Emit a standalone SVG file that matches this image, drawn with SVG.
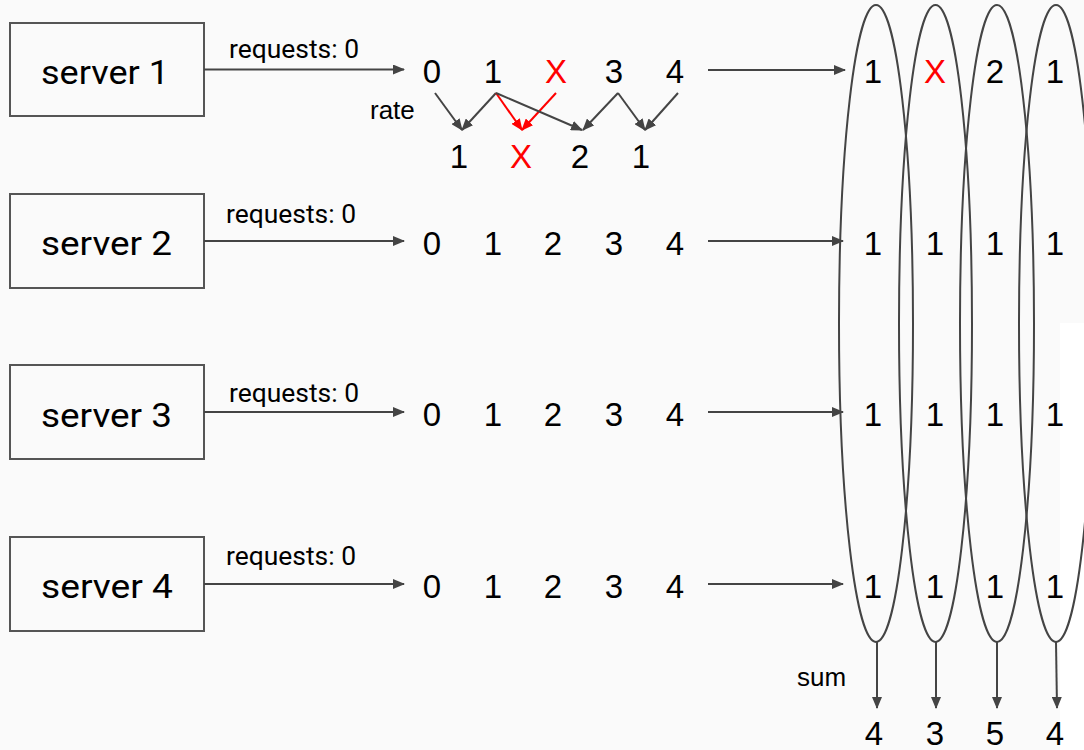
<svg xmlns="http://www.w3.org/2000/svg" width="1084" height="750" viewBox="0 0 1084 750">
<defs>
<marker id="ah" markerWidth="12" markerHeight="10" refX="11" refY="5" orient="auto" markerUnits="userSpaceOnUse"><path d="M0,0 L12,5 L0,10 z" fill="#444"/></marker>
<marker id="ahr" markerWidth="12" markerHeight="10" refX="11" refY="5" orient="auto" markerUnits="userSpaceOnUse"><path d="M0,0 L12,5 L0,10 z" fill="#ff0000"/></marker>
<style>
.box{fill:none;stroke:#555;stroke-width:2}
.ln{stroke:#444;stroke-width:2;fill:none}
.lr{stroke:#ff0000;stroke-width:2;fill:none}
.el{stroke:#444;stroke-width:2;fill:none}
.srv{font-family:Roboto,"Liberation Sans",sans-serif;font-size:34px;fill:#000}
.req{font-family:Roboto,"Liberation Sans",sans-serif;font-size:25px;fill:#000}
.lbl{font-family:"Liberation Sans",Arial,sans-serif;font-size:26px;fill:#000}
.d{font-family:"Liberation Sans",Arial,sans-serif;font-size:33px;fill:#000;text-anchor:middle}
.red{fill:#ff0000}
</style>
</defs>
<rect width="1084" height="750" fill="#fafafa"/>
<rect x="1060" y="323" width="24" height="427" fill="#ffffff"/>

<g id="server1"><rect class="box" x="10" y="23" width="194" height="93"/><text class="srv" x="41" y="84" textLength="128" lengthAdjust="spacingAndGlyphs">server 1</text></g>
<g id="server2"><rect class="box" x="10" y="194" width="194" height="94"/><text class="srv" x="41" y="255" textLength="131" lengthAdjust="spacingAndGlyphs">server 2</text></g>
<g id="server3"><rect class="box" x="10" y="365" width="194" height="94"/><text class="srv" x="41" y="427" textLength="131" lengthAdjust="spacingAndGlyphs">server 3</text></g>
<g id="server4"><rect class="box" x="10" y="537" width="194" height="94"/><text class="srv" x="41" y="598" textLength="132" lengthAdjust="spacingAndGlyphs">server 4</text></g>

<g id="row1">
<text class="d" x="432" y="83">0</text><text class="d" x="493" y="83">1</text><text class="d red" x="556" y="83">X</text><text class="d" x="614" y="83">3</text><text class="d" x="675" y="83">4</text>
</g>
<g id="rate-row">
<text class="d" x="459" y="168">1</text><text class="d red" x="521" y="168">X</text><text class="d" x="580" y="168">2</text><text class="d" x="641" y="168">1</text>
</g>
<g id="row2">
<text class="d" x="432" y="255">0</text><text class="d" x="493" y="255">1</text><text class="d" x="553" y="255">2</text><text class="d" x="614" y="255">3</text><text class="d" x="675" y="255">4</text>
</g>
<g id="row3">
<text class="d" x="432" y="426">0</text><text class="d" x="493" y="426">1</text><text class="d" x="553" y="426">2</text><text class="d" x="614" y="426">3</text><text class="d" x="675" y="426">4</text>
</g>
<g id="row4">
<text class="d" x="432" y="598">0</text><text class="d" x="493" y="598">1</text><text class="d" x="553" y="598">2</text><text class="d" x="614" y="598">3</text><text class="d" x="675" y="598">4</text>
</g>

<g id="ellipses">
<ellipse class="el" cx="876" cy="323.5" rx="37" ry="318.5"/>
<ellipse class="el" cx="935.5" cy="323.5" rx="36.5" ry="318.5"/>
<ellipse class="el" cx="997" cy="323.5" rx="37" ry="318.5"/>
<ellipse class="el" cx="1056" cy="323.5" rx="37" ry="318.5"/>
</g>

<g id="columns">
<text class="d" x="873" y="83">1</text><text class="d red" x="935" y="83">X</text><text class="d" x="995" y="83">2</text><text class="d" x="1055" y="83">1</text>
<text class="d" x="873" y="255">1</text><text class="d" x="935" y="255">1</text><text class="d" x="995" y="255">1</text><text class="d" x="1055" y="255">1</text>
<text class="d" x="873" y="426">1</text><text class="d" x="935" y="426">1</text><text class="d" x="995" y="426">1</text><text class="d" x="1055" y="426">1</text>
<text class="d" x="873" y="598">1</text><text class="d" x="935" y="598">1</text><text class="d" x="995" y="598">1</text><text class="d" x="1055" y="598">1</text>
</g>
<g id="sums">
<text class="d" x="874" y="745">4</text><text class="d" x="935" y="745">3</text><text class="d" x="995" y="745">5</text><text class="d" x="1055" y="745">4</text>
</g>

<g id="labels">
<text class="req" x="229" y="58" textLength="130" lengthAdjust="spacingAndGlyphs">requests: 0</text>
<text class="req" x="226" y="223" textLength="130" lengthAdjust="spacingAndGlyphs">requests: 0</text>
<text class="req" x="229" y="402" textLength="130" lengthAdjust="spacingAndGlyphs">requests: 0</text>
<text class="req" x="226" y="565" textLength="130" lengthAdjust="spacingAndGlyphs">requests: 0</text>
<text class="lbl" x="370" y="119">rate</text>
<text class="lbl" x="797" y="686">sum</text>
</g>

<g id="connectors">
<line class="ln" x1="204" y1="69.5" x2="404" y2="69.5" marker-end="url(#ah)"/>
<line class="ln" x1="204" y1="241" x2="404" y2="241" marker-end="url(#ah)"/>
<line class="ln" x1="204" y1="412" x2="404" y2="412" marker-end="url(#ah)"/>
<line class="ln" x1="204" y1="584" x2="404" y2="584" marker-end="url(#ah)"/>
<line class="ln" x1="708" y1="70" x2="845" y2="70" marker-end="url(#ah)"/>
<line class="ln" x1="708" y1="241" x2="843" y2="241" marker-end="url(#ah)"/>
<line class="ln" x1="708" y1="412" x2="843" y2="412" marker-end="url(#ah)"/>
<line class="ln" x1="708" y1="584" x2="843" y2="584" marker-end="url(#ah)"/>
<line class="ln" x1="435" y1="93" x2="462" y2="130" marker-end="url(#ah)"/>
<line class="ln" x1="496" y1="93" x2="462" y2="130" marker-end="url(#ah)"/>
<line class="lr" x1="496" y1="93" x2="522" y2="130" marker-end="url(#ahr)"/>
<line class="lr" x1="556" y1="93" x2="522" y2="130" marker-end="url(#ahr)"/>
<line class="ln" x1="496" y1="93" x2="582" y2="130" marker-end="url(#ah)"/>
<line class="ln" x1="618" y1="93" x2="583" y2="130" marker-end="url(#ah)"/>
<line class="ln" x1="618" y1="93" x2="645" y2="130" marker-end="url(#ah)"/>
<line class="ln" x1="678" y1="93" x2="645" y2="130" marker-end="url(#ah)"/>
<line class="ln" x1="877" y1="642" x2="877" y2="708" marker-end="url(#ah)"/>
<line class="ln" x1="936" y1="642" x2="936" y2="708" marker-end="url(#ah)"/>
<line class="ln" x1="997" y1="642" x2="997" y2="708" marker-end="url(#ah)"/>
<line class="ln" x1="1056" y1="642" x2="1057" y2="708" marker-end="url(#ah)"/>
</g>
</svg>
